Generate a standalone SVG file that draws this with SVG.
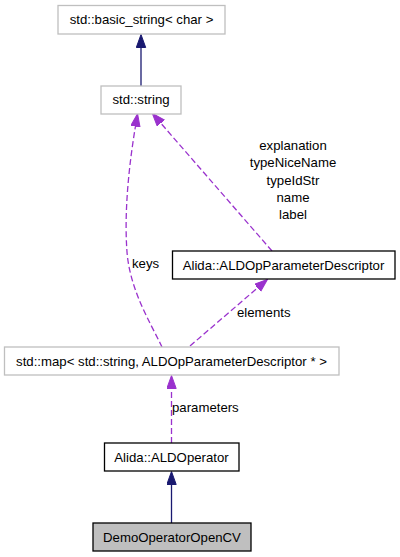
<svg xmlns="http://www.w3.org/2000/svg" width="400" height="557" viewBox="0 0 400 557">
<style>
text{font-family:"Liberation Sans",Arial,sans-serif;font-size:13.2px;fill:#000}
.c{text-anchor:middle}
.bg{fill:#fff;stroke:#bfbfbf;stroke-width:1.3}
.bk{fill:#fff;stroke:#000;stroke-width:1.3}
.cur{fill:#bfbfbf;stroke:#000;stroke-width:1.3}
.inh{fill:none;stroke:#191970;stroke-width:1.3}
.use{fill:none;stroke:#9a32cd;stroke-width:1.3;stroke-dasharray:6,3}
</style>
<defs>
<marker id="an" markerUnits="userSpaceOnUse" markerWidth="14" markerHeight="11" viewBox="0 0 14 11" refX="0.5" refY="5" orient="auto">
<path d="M0,0.3 L13,5 L0,9.7 z" fill="#191970" stroke="#191970"/>
</marker>
<marker id="ap" markerUnits="userSpaceOnUse" markerWidth="14" markerHeight="11" viewBox="0 0 14 11" refX="0.5" refY="5" orient="auto">
<path d="M0,0.3 L13,5 L0,9.7 z" fill="#9a32cd" stroke="#9a32cd"/>
</marker>
</defs>
<rect width="400" height="557" fill="#fff"/>
<g id="connectors">
<path class="inh" d="M141,86 L141,47" marker-end="url(#an)"/>
<path class="inh" d="M171.5,523 L171.5,484" marker-end="url(#an)"/>
<path class="use" d="M171.5,443 L171.5,388" marker-end="url(#ap)"/>
<path class="use" d="M190,346 L258,287.5" marker-end="url(#ap)"/>
<path class="use" d="M272,251 L160.5,122.8" marker-end="url(#ap)"/>
<path class="use" d="M162,347 C150,322 130,290 127,252 C124,212 129,165 135.5,126" marker-end="url(#ap)"/>
<text x="132" y="268">keys</text>
<text x="237" y="317">elements</text>
<text x="172" y="412">parameters</text>
<text class="c" x="293" y="150">explanation</text>
<text class="c" x="293" y="167">typeNiceName</text>
<text class="c" x="293" y="185">typeIdStr</text>
<text class="c" x="293" y="202">name</text>
<text class="c" x="293" y="219">label</text>
</g>
<g id="node_basic_string">
<rect class="bg" x="58" y="5.5" width="167" height="28.5"/>
<text class="c" x="141.5" y="24">std::basic_string&lt; char &gt;</text>
</g>
<g id="node_string">
<rect class="bg" x="101" y="86" width="80" height="28"/>
<text class="c" x="141" y="104">std::string</text>
</g>
<g id="node_descriptor">
<rect class="bk" x="172.5" y="251" width="222.5" height="28"/>
<text class="c" x="283.5" y="269.5">Alida::ALDOpParameterDescriptor</text>
</g>
<g id="node_map">
<rect class="bg" x="4.5" y="347" width="334.5" height="28"/>
<text class="c" x="171.5" y="365.5">std::map&lt; std::string, ALDOpParameterDescriptor * &gt;</text>
</g>
<g id="node_operator">
<rect class="bk" x="104.5" y="443" width="134.5" height="28"/>
<text class="c" x="171.5" y="461.5">Alida::ALDOperator</text>
</g>
<g id="node_demo">
<rect class="cur" x="93" y="523" width="158" height="28"/>
<text class="c" x="172" y="541.5">DemoOperatorOpenCV</text>
</g>
</svg>
